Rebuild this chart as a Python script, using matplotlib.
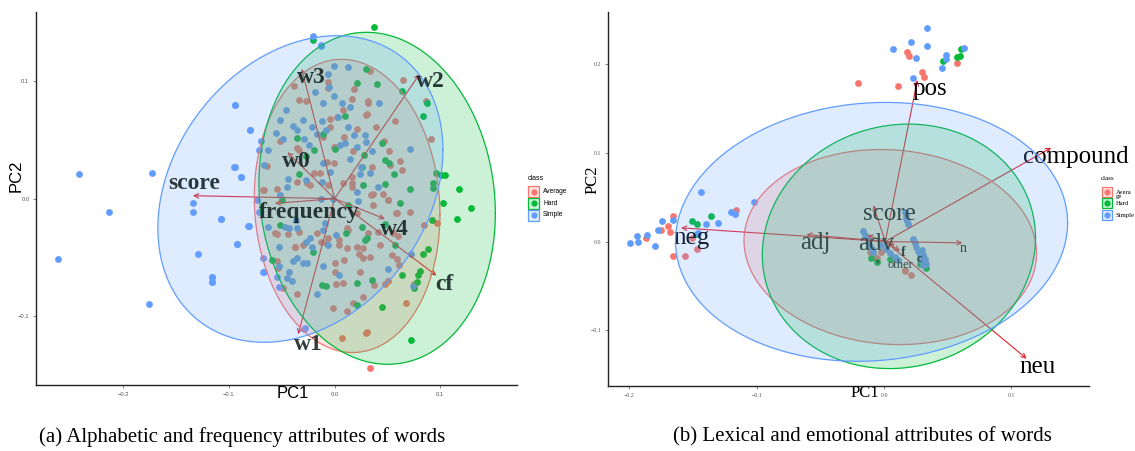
import numpy as np
import matplotlib.pyplot as plt
from matplotlib.patches import Rectangle

plt.rcParams['font.family'] = ['Liberation Sans', 'DejaVu Sans']
plt.rcParams['axes.unicode_minus'] = True

RED, GREEN, BLUE = '#F8766D', '#00BA38', '#619CFF'
ARROW = '#E8202A'
SERIF = 'Liberation Serif'

# ---------------- (a) alphabetic / frequency PCA scores ----------------
avg_a = [(-0.0384, 0.0956), (-0.034, 0.084), (-0.027, 0.083), (-0.006, 0.099), (-0.0065, 0.094),
         (0.018, 0.093), (0.016, 0.085), (0.0077, 0.075), (-0.0044, 0.068), (0.002, 0.0695),
         (-0.004, 0.0605), (0.009, 0.0525), (0.021, 0.0588), (0.0297, 0.0715), (-0.0517, 0.049),
         (-0.036, 0.0427), (-0.034, 0.041), (-0.064, 0.028), (-0.0075, 0.031), (-0.001, 0.030),
         (0.0013, 0.044), (-0.036, 0.0138), (-0.023, 0.0115), (-0.0138, 0.0214), (-0.006, 0.0115),
         (0.0082, 0.013), (0.016, 0.0185), (0.0177, 0.0406), (-0.068, 0.0072), (0.032, 0.081),
         (0.016, 0.010), (-0.0548, -0.0304), (-0.0438, -0.0304), (-0.0337, -0.0287), (-0.0375, -0.041),
         (-0.0296, -0.039), (-0.0131, -0.0367), (-0.0081, -0.0375), (-0.0065, -0.0338), (0.0004, -0.055),
         (0.0089, -0.0522), (0.0114, -0.0418), (0.0045, -0.0395), (0.0209, -0.041), (0.0234, -0.0474),
         (0.0272, -0.0503), (0.0004, -0.0627), (0.024, -0.0622), (0.001, -0.0729), (-0.0359, -0.0814),
         (-0.0548, -0.0531), (-0.0533, -0.0588), (-0.0485, -0.0758), (-0.0018, -0.0928), (0.0114, -0.0956),
         (0.0171, -0.089), (0.0272, -0.0834), (0.0067, -0.1188), (0.0294, -0.114), (0.0335, -0.1443),
         (0.0114, -0.0248), (-0.0164, -0.0296), (0.0082, -0.0715), (0.0335, 0.1086), (0.065, 0.101),
         (0.0862, 0.0828), (0.0313, 0.0828), (0.0304, 0.0718), (0.0392, 0.061), (0.0571, 0.066),
         (0.0909, 0.0508), (0.0467, 0.049), (0.0517, 0.0403), (0.0357, 0.027), (0.0524, 0.0285),
         (0.0619, 0.0319), (0.064, 0.0242), (0.0366, 0.0036), (0.0461, 0.0036), (0.0966, -0.0206),
         (0.0849, -0.0225), (0.0673, -0.089), (0.0754, -0.0729), (0.0304, -0.1137), (0.0508, -0.0013),
         (0.0587, -0.0126), (0.0713, -0.0112), (0.0413, -0.0282), (0.0555, -0.0296), (0.0603, -0.0319),
         (0.054, -0.048), (0.0587, -0.0517), (0.0612, -0.0565), (0.043, -0.0395), (0.0376, -0.0735),
         (0.0508, -0.070), (0.0477, -0.0729), (0.0335, -0.0494), (0.0162, 0.013), (0.0348, 0.0031),
         (0.05, -0.0011), (0.0584, -0.0125), (0.0365, -0.0054), (0.0213, -0.0125), (0.0128, -0.0266),
         (0.0044, -0.0351), (0.0264, -0.0422), (0.0314, -0.0295), (-0.0108, 0.0527), (-0.0007, 0.0442),
         (-0.0193, 0.0215), (-0.026, 0.013), (-0.0547, 0.0079), (-0.0666, 0.0074), (-0.0564, -0.0295),
         (-0.0378, -0.0408)]

hard_a = [(-0.020, 0.135), (0.030, 0.110), (0.0215, 0.098), (0.0098, 0.070), (-0.011, 0.0548),
          (-0.036, 0.0517), (-0.0195, 0.041), (0.0004, 0.0426), (-0.027, 0.036), (0.026, 0.027),
          (-0.0337, 0.0208), (0.027, 0.012), (0.028, 0.037), (-0.050, -0.001), (-0.0517, -0.0225),
          (-0.0595, -0.0522), (-0.0202, -0.0452), (-0.0122, -0.0735), (-0.0081, -0.0741), (0.0105, -0.0296),
          (0.0209, -0.072), (0.0209, -0.090), (0.0288, -0.0353), (0.0256, -0.024), (0.013, -0.0055),
          (0.0372, 0.1456), (0.0398, 0.0973), (0.064, 0.0916), (0.0871, 0.0817), (0.0833, 0.0703),
          (0.0446, 0.0469), (0.0477, 0.0327), (0.0515, 0.0304), (0.0565, 0.0208), (0.0959, 0.022),
          (0.1007, 0.020), (0.1045, 0.020), (0.0934, 0.0129), (0.0928, 0.0087), (0.118, 0.0081),
          (0.0713, 0.0078), (0.0477, 0.0123), (0.1023, -0.0036), (0.129, -0.0083), (0.116, -0.0177),
          (0.0919, -0.0183), (0.0619, -0.004), (0.0886, -0.0432), (0.0839, -0.0474), (0.0808, -0.0616),
          (0.0786, -0.065), (0.0635, -0.065), (0.0777, -0.0707), (0.0754, -0.0763), (0.0446, -0.0919),
          (0.0723, -0.1202), (0.0357, -0.0692), (0.0571, -0.0395), (0.0477, -0.0219), (0.0304, -0.0338)]

simple_a = [(-0.020, 0.138), (-0.013, 0.130), (-0.094, 0.080), (-0.080, 0.058), (-0.095, 0.027),
            (-0.089, 0.0185), (-0.070, 0.049), (-0.072, 0.041), (-0.063, 0.041), (-0.067, 0.029),
            (-0.052, 0.067), (-0.046, 0.075), (-0.055, 0.056), (-0.049, 0.051), (-0.044, 0.017),
            (-0.045, 0.010), (-0.052, 0.003), (-0.039, 0.062), (-0.036, 0.058), (-0.030, 0.067),
            (-0.029, 0.051), (-0.0245, 0.046), (-0.027, 0.016), (-0.021, 0.061), (-0.0185, 0.091),
            (-0.011, 0.081), (-0.012, 0.066), (-0.0085, 0.058), (-0.017, 0.055), (-0.0065, 0.106),
            (-0.0055, 0.095), (-0.001, 0.113), (0.013, 0.112), (-0.0005, 0.087), (0.0067, 0.081),
            (0.015, 0.0775), (0.013, 0.061), (0.018, 0.054), (0.010, 0.047), (0.005, 0.046),
            (0.003, 0.0695), (0.0215, 0.044), (0.029, 0.054), (0.0146, 0.034), (0.0247, 0.027),
            (0.024, 0.021), (-0.0044, 0.023), (-0.011, 0.030), (-0.012, 0.014), (0.021, 0.006),
            (0.030, 0.048), (-0.1075, -0.0177), (-0.0816, -0.0234), (-0.0926, -0.0387), (-0.116, -0.0664),
            (-0.116, -0.0712), (-0.068, -0.0622), (-0.0674, -0.0503), (-0.072, -0.0112), (-0.0627, -0.024),
            (-0.0526, -0.0412), (-0.0529, -0.0573), (-0.0542, -0.0664), (-0.0526, -0.0754), (-0.0447, -0.0678),
            (-0.0428, -0.0627), (-0.040, -0.070), (-0.0396, -0.0531), (-0.0359, -0.0503), (-0.0302, -0.055),
            (-0.0264, -0.055), (-0.047, -0.024), (-0.0428, -0.0253), (-0.0359, -0.0253), (-0.0365, -0.0183),
            (-0.0233, -0.0338), (-0.027, -0.0367), (-0.0214, -0.041), (-0.0113, -0.0268), (-0.009, -0.021),
            (-0.0107, -0.057), (-0.0164, -0.0811), (-0.0277, -0.110), (0.0045, -0.065), (0.0013, -0.031),
            (-0.006, -0.0395), (-0.0012, -0.0004), (-0.013, 0.0), (0.0224, -0.002), (-0.073, -0.0013),
            (0.0423, 0.0809), (0.0713, 0.0418), (0.0351, 0.0403), (0.0335, 0.022), (0.0408, 0.010),
            (0.0723, -0.0474), (0.0502, -0.0602), (0.0745, -0.0741), (-0.2416, 0.021), (-0.173, 0.0215),
            (-0.2135, -0.0116), (-0.2618, -0.0516), (-0.1753, -0.0895), (-0.1341, -0.0034), (-0.1341, -0.0116),
            (-0.1078, -0.0176), (-0.1297, -0.047), (-0.1162, -0.0663), (-0.1162, -0.0705), (-0.0943, 0.080),
            (-0.080, 0.058), (-0.0946, 0.0272), (-0.0885, 0.0187), (-0.081, -0.0232), (-0.0926, -0.0388),
            (-0.0672, -0.062), (-0.0132, 0.1306), (-0.0287, -0.111)]

vars_a = ['w3', 'w2', 'w0', 'score', 'frequency', 'w4', 'cf', 'w1']
load_a_x = [-0.0311, 0.0804, -0.0446, -0.1341, -0.0564, 0.0476, 0.0963, -0.0345]
load_a_y = [0.1102, 0.1060, 0.0394, 0.0025, -0.0040, -0.0173, -0.0654, -0.1153]
lab_a_x = [-0.0216, 0.0905, -0.0361, -0.1324, -0.0243, 0.0561, 0.1034, -0.0253]
lab_a_y = [0.1028, 0.0994, 0.0314, 0.0130, -0.0119, -0.0261, -0.0734, -0.1244]

# ellipses: centre, x/y half-extent, cos of the phase shift (tilt)
ell_a = {'Average': (0.0118, -0.0062, 0.0878, 0.1246, -0.06),
         'Hard': (0.0402, 0.0003, 0.1118, 0.1411, -0.09),
         'Simple': (-0.0324, 0.0082, 0.1348, 0.1303, 0.255)}

# ---------------- (b) lexical / emotional PCA scores ----------------
avg_b = [(0.0177, 0.2135), (0.0197, 0.209), (0.0302, 0.191), (0.0315, 0.1854), (-0.0203, 0.179),
         (0.0106, 0.1752), (0.0577, 0.2004), (-0.187, 0.004), (-0.1752, 0.0127), (-0.1695, 0.0172),
         (-0.1681, 0.0108), (-0.166, 0.0288), (-0.166, -0.0166), (-0.1564, -0.0162), (-0.1472, -0.0079),
         (-0.1511, 0.0045), (-0.1163, 0.0352), (-0.0111, -0.0117), (-0.0059, -0.018), (-0.002, -0.0117),
         (0.0163, -0.0315), (0.021, -0.038), (0.0281, -0.021), (0.032, -0.023), (0.0067, -0.018),
         (-0.0069, -0.0173), (0.0161, -0.0334)]

hard_b = [(0.0464, 0.203), (0.0574, 0.2079), (0.060, 0.2087), (0.0608, 0.2166), (-0.1511, 0.0232),
          (-0.1467, 0.0203), (-0.1362, 0.0288), (-0.1467, 0.009), (-0.0106, -0.018), (-0.0054, -0.023),
          (0.0046, -0.0191), (0.0328, -0.0293), (0.0281, -0.0248)]

simple_b = [(0.0341, 0.2405), (0.0208, 0.2248), (0.0334, 0.220), (0.0067, 0.2162), (0.0255, 0.2068),
            (0.0485, 0.2098), (0.0485, 0.2053), (0.0626, 0.2173), (0.0456, 0.1948), (0.0224, 0.1836),
            (-0.1995, -0.0011), (-0.193, -0.0004), (-0.1943, 0.0063), (-0.1864, 0.0071), (-0.180, -0.005),
            (-0.1742, 0.0229), (-0.1778, 0.0135), (-0.1655, 0.0248), (-0.144, 0.0552), (-0.1399, 0.0195),
            (-0.1307, 0.021), (-0.1205, 0.0327), (-0.1171, 0.0307), (-0.102, 0.0446), (-0.1459, 0.0101),
            (-0.0164, 0.0119), (-0.0150, 0.0075), (-0.0136, 0.0035), (-0.0122, -0.0005), (-0.0108, -0.0045),
            (-0.0096, -0.0080), (-0.0086, -0.0117), (0.0163, 0.0333), (0.0170, 0.0300), (0.0176, 0.0268),
            (0.0183, 0.0236), (0.0189, 0.0203), (0.0228, 0.0023), (0.0240, -0.0020), (0.0254, -0.0065),
            (0.0268, -0.0110), (0.0281, -0.0155), (0.0294, -0.0210), (0.0307, -0.0267), (0.0300, -0.0100),
            (0.0310, -0.0150), (0.0320, -0.0200), (0.0330, -0.0250), (-0.002, -0.0042), (0.0015, -0.0085),
            (0.0050, -0.0125), (0.0085, -0.0170), (0.0110, -0.0210)]

vars_b = ['pos', 'compound', 'neu', 'neg', 'adj', 'score', 'adv', 'n', 'f', 'other']
load_b_x = [0.0262, 0.1313, 0.1120, -0.1595, -0.0610, -0.0084, -0.0132, 0.0616, 0.0126, 0.0086]
load_b_y = [0.1818, 0.1055, -0.1318, 0.0154, 0.0079, 0.0409, 0.0071, -0.0015, -0.0106, -0.0042]
lab_b_x = [0.0357, 0.1506, 0.1206, -0.1509, -0.0538, 0.0046, -0.0060, 0.0622, 0.0150, 0.0130]
lab_b_y = [0.1712, 0.0954, -0.1412, 0.0045, -0.0011, 0.0308, -0.0030, -0.0079, -0.0125, -0.0262]
lab_b_size = [18, 18, 18, 18, 18, 18, 18, 10, 10, 9]
extra_b = [('c', 0.0277, -0.0199), ('v', -0.0045, -0.0228)]

ell_b = {'Average': (0.0049, -0.0062, 0.1149, 0.1098, -0.065),
         'Hard': (0.0117, -0.0054, 0.1073, 0.1376, 0.07),
         'Simple': (-0.0098, 0.0109, 0.1540, 0.1457, 0.07)}

classes = ['Average', 'Hard', 'Simple']
colors = {'Average': RED, 'Hard': GREEN, 'Simple': BLUE}


def draw_ellipses(ax, params):
    # each group: fill then outline, so later groups tint the earlier outlines
    t = np.linspace(0, 2 * np.pi, 300)
    for i, cls in enumerate(classes):
        cx, cy, rx, ry, c = params[cls]
        x = cx + rx * np.cos(t)
        y = cy + ry * np.cos(t - np.arccos(c))
        ax.fill(x, y, facecolor=colors[cls], alpha=0.2, edgecolor='none', zorder=5 + 2 * i)
        ax.plot(x, y, color=colors[cls], lw=0.9, zorder=6 + 2 * i)


def draw_points(ax, groups, s=24):
    for cls, pts in zip(classes, groups):
        p = np.array(pts)
        ax.scatter(p[:, 0], p[:, 1], s=s, color=colors[cls], linewidths=0, zorder=2)


def style_axes(ax, family, xlim, ylim, xticks, yticks):
    ax.set_xlim(*xlim)
    ax.set_ylim(*ylim)
    ax.set_xticks(xticks)
    ax.set_yticks(yticks)
    ax.set_xticklabels([f'{v:.1f}'.replace('-', '\u2212') for v in xticks], family=family)
    ax.set_yticklabels([f'{v:.1f}'.replace('-', '\u2212') for v in yticks], family=family)
    for side in ['top', 'right']:
        ax.spines[side].set_visible(False)
    for side in ['left', 'bottom']:
        ax.spines[side].set_linewidth(1.0)
        ax.spines[side].set_color('#222222')
    ax.tick_params(length=2, width=0.5, labelsize=4.2, colors='#555555', pad=3)
    ax.set_facecolor('none')


fig = plt.figure(figsize=(11.35, 4.51), dpi=100)
W, H = 1135, 451


def px_axes(x0, y0, x1, y1):
    return fig.add_axes([x0 / W, 1 - y1 / H, (x1 - x0) / W, (y1 - y0) / H])


# panel (a)
ax1 = px_axes(36.4, 11.7, 516.8, 385)
draw_points(ax1, [avg_a, hard_a, simple_a])
for name, lx, ly, tx, ty in zip(vars_a, load_a_x, load_a_y, lab_a_x, lab_a_y):
    ax1.annotate('', xy=(lx, ly), xytext=(0, 0), zorder=3,
                 arrowprops=dict(arrowstyle='->', color=ARROW, lw=0.8, shrinkA=0, shrinkB=0,
                                 mutation_scale=8))
    ax1.text(tx, ty, name, family=SERIF, weight='bold', fontsize=17, color='#0d1a1a',
             alpha=0.85, ha='center', va='center', zorder=12)
draw_ellipses(ax1, ell_a)
style_axes(ax1, 'Liberation Sans', (-0.2821, 0.1723), (-0.1584, 0.1589),
           [-0.2, -0.1, 0.0, 0.1], [-0.1, 0.0, 0.1])

# panel (b)
ax2 = px_axes(608.4, 11.7, 1089, 386)
draw_points(ax2, [avg_b, hard_b, simple_b])
for name, lx, ly, tx, ty, fs in zip(vars_b, load_b_x, load_b_y, lab_b_x, lab_b_y, lab_b_size):
    ax2.annotate('', xy=(lx, ly), xytext=(0.001, 0), zorder=3,
                 arrowprops=dict(arrowstyle='->', color=ARROW, lw=0.8, shrinkA=0, shrinkB=0,
                                 mutation_scale=8))
    ax2.text(tx, ty, name, family=SERIF, fontsize=fs, color='black',
             weight='bold' if name == 'f' else 'normal',
             ha='center', va='center', zorder=4)
for name, tx, ty in extra_b:
    ax2.text(tx, ty, name, family=SERIF, fontsize=9 if name == 'c' else 6,
             weight='bold', color='black', ha='center', va='center', zorder=4)
draw_ellipses(ax2, ell_b)
style_axes(ax2, SERIF, (-0.2165, 0.161), (-0.1626, 0.2587),
           [-0.2, -0.1, 0.0, 0.1], [-0.1, 0.0, 0.1, 0.2])

# overlay in pixel coordinates: axis titles, legends, captions
ov = fig.add_axes([0, 0, 1, 1], zorder=10)
ov.set_xlim(0, W)
ov.set_ylim(H, 0)
ov.axis('off')
ov.patch.set_alpha(0)

ov.text(293, 393, 'PC1', fontsize=12, ha='center', va='center', family='Liberation Sans')
ov.text(16, 176, 'PC2', fontsize=12, ha='center', va='center', rotation=90, family='Liberation Sans')
ov.text(865, 393, 'PC1', fontsize=12, ha='center', va='center', family=SERIF)
ov.text(593, 180, 'PC2', fontsize=12, ha='center', va='center', rotation=90, family=SERIF)


def legend(x_key, x_text, labels, family, box):
    ov.text(x_key - 6, 179, 'class', fontsize=5, ha='left', va='center', family=family)
    for i, cls in enumerate(classes):
        yc = [191.7, 203.3, 215][i]
        ov.add_patch(Rectangle((x_key - box / 2, yc - box / 2), box, box,
                               facecolor=colors[cls], alpha=0.2, edgecolor='none'))
        ov.add_patch(Rectangle((x_key - box / 2, yc - box / 2), box, box,
                               facecolor='none', edgecolor=colors[cls], lw=0.9))
        ov.scatter([x_key], [yc], s=20, color=colors[cls], linewidths=0)
        ov.text(x_text, yc if '\n' not in labels[i] else yc + 3, labels[i], fontsize=4.8,
                ha='left', va='center', family=family, linespacing=0.75)


legend(533.5, 543, ['Average', 'Hard', 'Simple'], 'Liberation Sans', 11)
legend(1107, 1116, ['Avera\nge', 'Hard', 'Simple'], SERIF, 10)

ov.text(242, 437, '(a) Alphabetic and frequency attributes of words', fontsize=15,
        ha='center', va='center', family=SERIF)
ov.text(862, 437, '(b) Lexical and emotional attributes of words', fontsize=15,
        ha='center', va='center', family=SERIF)

fig.savefig('out.png', dpi=100)
